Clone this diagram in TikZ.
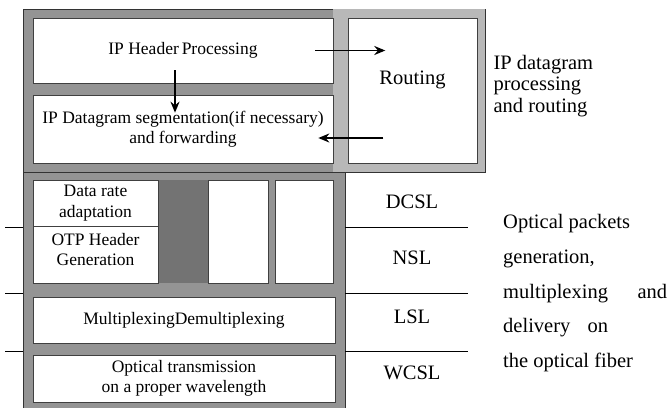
\documentclass[tikz,border=0pt]{standalone}
\usepackage{fontspec}
\setmainfont{Liberation Serif}
\usetikzlibrary{arrows.meta}
\newcommand\boxfont{\fontsize{17.5}{20.5}\selectfont}
\newcommand\sidefont{\fontsize{20.5}{21.5}\selectfont}
\begin{document}
\begin{tikzpicture}[x=1pt,y=-1pt,line cap=butt,line join=miter,>={Stealth[length=11pt,width=9pt]},font=\boxfont]
	\tikzset{layerbox/.style={draw=black!75,fill=white,line width=0.6pt,inner sep=0pt,align=center},
		framefill/.style={fill=black!42,draw=black!80,line width=0.5pt},
		arr/.style={->,line width=1.8pt}}
	\useasboundingbox (0,0) rectangle (668,407);
	% grey frames
	\fill[framefill] (23,9) rectangle (485,172);
	\fill[fill=black!28] (333,9.3) rectangle (484.7,171.7);
	\fill[framefill] (23,172) rectangle (345,410);
	\fill[black!55] (158,180) rectangle (208,283);
	% IP layer
	\node[layerbox,minimum width=300pt,minimum height=65pt] (hdr) at (183,50.5) {IP Header\,Processing};
	\node[layerbox,minimum width=300pt,minimum height=68pt] (seg) at (183,129) {IP Datagram segmentation(if necessary)\\and forwarding};
	\node[layerbox,minimum width=129pt,minimum height=145pt] (rout) at (412.5,90.5) {};
	\node[font=\sidefont] (routtxt) at ([yshift=11pt]rout.center) {Routing};
	% optical layers
	\node[layerbox,minimum width=125pt,minimum height=46pt] (rate) at (95.5,203) {Data rate\\adaptation};
	\node[layerbox,minimum width=125pt,minimum height=57pt] (otp) at (95.5,254.5) {};
	\node[align=center,inner sep=0pt] (otptxt) at ([yshift=5pt]otp.center) {OTP Header\\Generation};
	\node[layerbox,minimum width=60pt,minimum height=103pt] (blka) at (238,231.5) {};
	\node[layerbox,minimum width=58pt,minimum height=103pt] (blkb) at (304,231.5) {};
	\node[layerbox,minimum width=302pt,minimum height=46pt] (mux) at (184,320) {MultiplexingDemultiplexing};
	\node[layerbox,minimum width=302pt,minimum height=47pt] (otx) at (184,378.5) {Optical transmission\\on a proper wavelength};
	% arrows
	\draw[arr] ([xshift=-18pt]hdr.east) -- ++(70,0);
	\draw[arr] ([xshift=50pt,yshift=-9pt]seg.east) -- ++(-65,0);
	\draw[arr] ([xshift=-8pt,yshift=13pt]hdr.south) -- ([xshift=-8pt,yshift=-18pt]seg.north);
	% layer separators
	\foreach \y in {227,293,351}{
		\draw[line width=0.8pt] (5,\y)--(23,\y);
		\draw[line width=0.8pt] (345,\y)--(468,\y);}
	\foreach \y/\t in {202/DCSL,258/NSL,317/LSL,373/WCSL}{
		\node[font=\sidefont] (\t) at (412,\y) {\t};}
	% side texts
	\node[font=\sidefont,anchor=west,align=left] (iptxt) at (490,86) {IP datagram\\processing\\and routing};
	\foreach \y/\t in {224/Optical packets,259/{generation,},294/{\makebox[164pt][s]{multiplexing and}},328/{\makebox[105pt][s]{delivery on}},362/the optical fiber}{
		\node[font=\sidefont,anchor=west,inner sep=0pt] at (503,\y) {\t};}
\end{tikzpicture}
\end{document}
